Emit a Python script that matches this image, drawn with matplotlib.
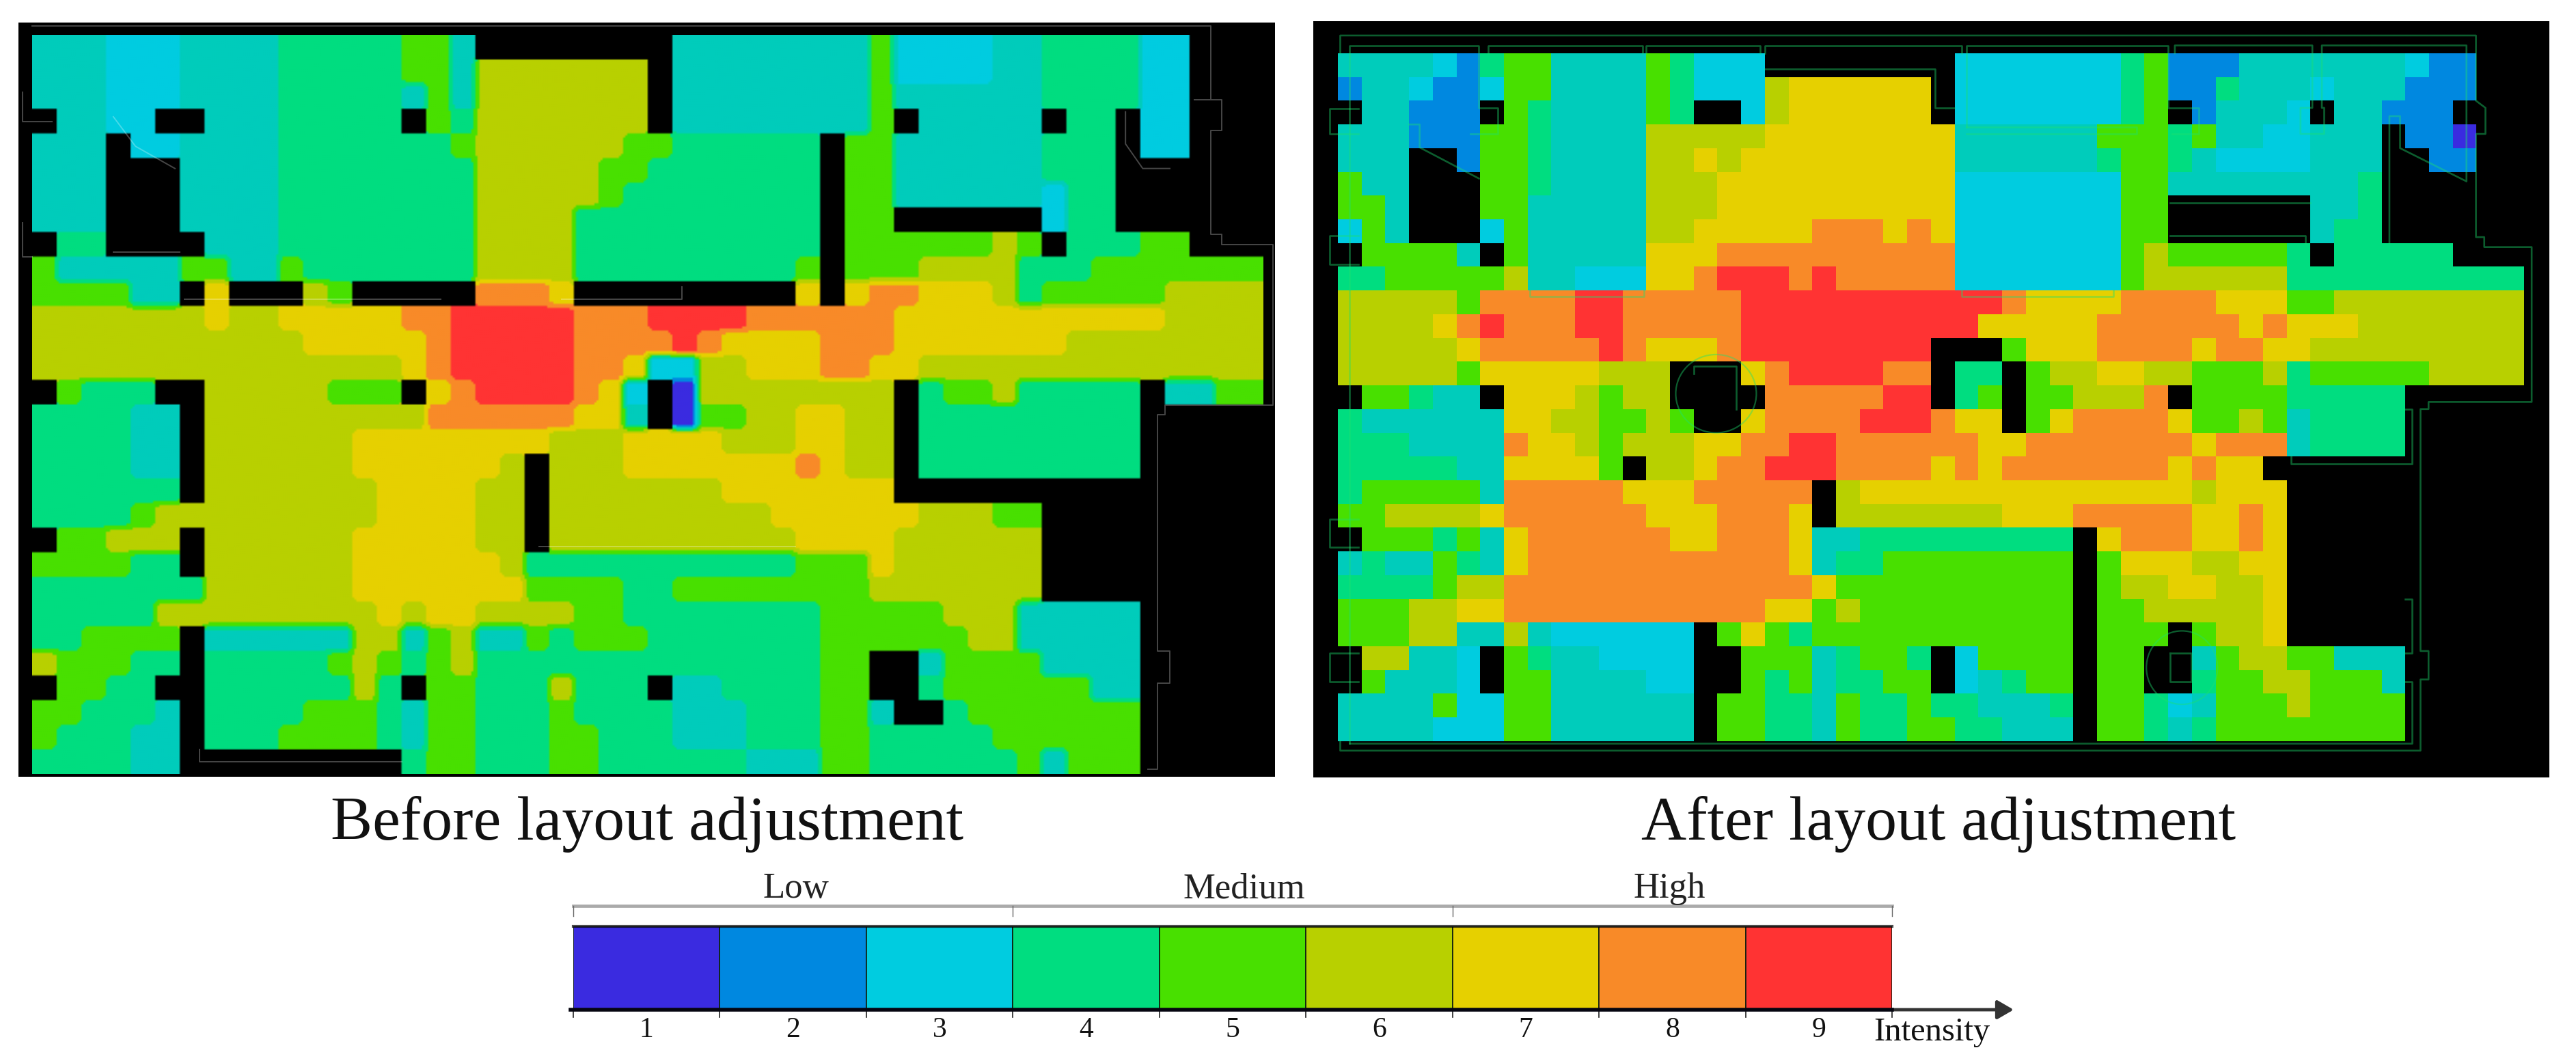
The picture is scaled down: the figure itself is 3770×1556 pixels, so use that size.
import numpy as np
import matplotlib
matplotlib.use('Agg')
import matplotlib.pyplot as plt
from matplotlib.colors import ListedColormap
from matplotlib.patches import Ellipse

# Data: one char per cell, 0 = wall/black, t = the teal shade between 3 and 4
before_rows = [
    "ttt 333 tttt 44444 55 t 00000000 tttttttt 5 3333 tt 4444 33 000",
    "ttt 333 tttt 44444 55 t 6666666 0 tttttttt 5 3333 tt 4444 33 000",
    "ttt 333 tttt 44444 t5 t 6666666 0 tttttttt 5 tttt tt 4444 33 000",
    "0 tt 33 00 ttt 44444 0 5 4 6666666 0 tttttttt 5 0 ttttt 0 44 0 33 000",
    "ttt 0 33 tttt 4444444 5 666666 5 5 444444 0 55 tttttt 444 0 33 000",
    "ttt 000 tttt 44444444 66666 55 4 444444 0 55 tttttt 444 000000",
    "ttt 000 tttt 44444444 66666 5 44 444444 0 55 tttttt 3 44 000000",
    "ttt 000 tttt 44444444 6666 4444 444444 0 55 000000 3 44 000000",
    "0 44 0000 ttt 44444444 6666 4444 444444 0 55 5555 6 5 0 444 55 000",
    "5 ttttt 55 tt 5 4444444 6666 4444 44444 5 0 555 6666 444 5555555",
    "5555 tt 0 7 000 6 5 00000 888 7 000000000 7 0 7 88 777 6 4 55555 6666",
    "6666666 7 66 77777 88 99999 888 9999 888888 77777777777 6666",
    "66666666666 77777 8 99999 888 8 9 8 7777 888 7777777 66666666",
    "666666666666666 7 8 99999 88 7 33 66 777 88 77 66666666666666",
    "0 5 444 00 66666 555 0 7 8 9999 8 7 3 0 1 66666666 0 4 55 6 44444 0 tt 55",
    "4444 tt 0 666666666 888888 77 t 0 1 55 66 77 66 0 444444444 00000",
    "4444 tt 0 666666 77777777 666 7777 666 77 66 0 444444444 00000",
    "4444 tt 0 666666 777777 6 0 666 7777777 8 7 66 0 444444444 00000",
    "444444 0 6666666 7777 66 0 6666666 7777777 000000000000000",
    "4444 5 666666666 7777 66 0 666666666 777777 666 55 000000000",
    "0 55 666 0 666666 77777 66 0 6666666666 7777 666666 000000000",
    "5555 44 0 666666 777777 6 444444 44444 555 7 666666 000000000",
    "4444444 666666 7777777 5555 44 55555555 6666666 000000000",
    "44444 666666666 7 6 77 6666 55 44444444 55555 666 ttttt 00000",
    "44 55 55 0 tttttt 66 t 5 6 tt 5 4 555 4 444444 555555 66 ttttt 00000",
    "6 555 44 0 44444 5 6 5 4 5 6 44444444444444 55 00 t 5555 tttt 00000",
    "0 55 44 00 444444 6 4 0 55 444 6 444 0 tt 4444 55 00 4 555555 tt 00000",
    "55 444 t 0 4444 555 4 t 55 444 5 4444 ttt 444 55 t 00 4 5555555 00000",
    "5 444 tt 0 444 5555 4 t 55 444 55 444 ttt 444 55 44444 555555 00000",
    "4444 tt 000000000 4 55 444 55 444444 ttt 55 444444 5 t 555 00000",
]

after_rows = [
    "tttt 3 2 4 55 tttt 5 4 333 00000000 3333333 4 5 222 ttttttt 3 22 00",
    "2 tt 3 22 3 55 tttt 5 4 333 6 777777 0 3333333 4 5 22 4 ttt 3 ttt 222 00",
    "0 tt 222 0 5 4 tttt 5 4 00 3 6 777777 0 3333333 4 5 0 2 ttt 3 0 tt 222 0 00",
    "ttt 222 55 4 tttt 66666 7777777 7 tttttt 555 4 5 tt 33 ttt 0 22 1 00",
    "ttt 00 2 55 4 tttt 66 7 6 77777777 7 tttttt 4 55 4 t 3333 ttt 00 22 00",
    "5 tt 000 55 4 tttt 666 7777777777 3333333 55 tttttttt 4 000000",
    "55 t 000 55 ttttt 666 7777777777 3333333 55 000000 tt 4 000000",
    "3 5 t 000 3 5 ttttt 66 77777 888 7 8 7 3333333 55 000000 t 44 000000",
    "0 5555 t 0 5 ttttt 777 8888888888 3333333 5 6 55555 4 0 44444 000",
    "44 55555 6 tt 333 77 8 999 8 9 88888 3333333 5 666666 4444444444",
    "66666 5 8888 99 88888 99999999999 8 7777 8888 777 55 66666666",
    "6666 7 8 9 888 99 88888 9999999999 77777 888888 7 8 777 6666666",
    "66666 7 88888 9 8 777 8 99999999 000 5 777 8888 7 88 77 666666666",
    "66666 5 77777 666 000 7 8 9999 88 0 44 0 5 66 77 66 555 6 4 55555 6666",
    "0 55 4 tt 0 777 6 5 66 0000 88888 99 0 4 5 0 55 666 8 0 5555 44444 00000",
    "4 tttttt 77 66 55 6 5 00 7 8888 999 8 77 0 5 7 8888 7 55 6 5 t 4444 00000",
    "444 tttt 8 77 6 5 666 77 88 99 88888 8 77 8888888 7 888 t 4444 00000",
    "44444 tt 7777 5 0 66 7 88 999 8888 7 8 7 8888888 7 8 77 0000000000",
    "4 55555 t 88888 777 88888 0 6 7777 7777777777 6 777 0000000000",
    "55 6666 7 888888 777 888 7 0 66666 66 777 88888 77 8 7 0000000000",
    "0 555 4 5 t 7 888888 77 888 7 tt 4444 44444 0 7 888 77 8 7 0000000000",
    "t 4 tt 5 4 t 7 88888888888 7 t 44 555 55555 0 5 777 66 77 0000000000",
    "4444 5 66 8888888888888 7 55555 55555 0 5 66 77 66 7 0000000000",
    "555 66 77 88888888888 77 5 6 5555 55555 0 55 66666 7 0000000000",
    "555 66 tt 6 t 333333 0 5 7 5 4 555555 55555 0 555 0 5 66 7 0000000000",
    "0 66 tt 3 0 5 4 tt 3333 00 555 t 4 55 4 0 3 5555 0 55 00 t 5 66 55 ttt 00000",
    "0 5 ttt 3 0 55 tttt 33 00 5 4 5 t 44 55 0 3 t 4 55 0 55 00 4 55 66 555 t 00000",
    "tttt 5 33 55 tttttt 0 55 44 t 5 44 5 44 ttt 4 0 55 4 3 t 555 6 5555 00000",
    "tttt 333 55 tttttt 0 55 44 t 5 44 55 44 ttt 0 55 4 t 4 55555555 00000",
]

level_chars = "0123t456789"
level_colors = ["#000000", "#3A2BE0", "#0088E0", "#00CCE0", "#00CCBB", "#00DD80",
                "#48E000", "#B8D000", "#E6D000", "#F88A28", "#FF3333"]
legend_levels = [1, 2, 3, 4, 5, 6, 7, 8, 9]
legend_colors = ["#3A2BE0", "#0088E0", "#00CCE0", "#00DD80", "#48E000", "#B8D000", "#E6D000", "#F88A28", "#FF3333"]
legend_groups = ["Low", "Medium", "High"]
group_label_x = [1.52, 4.58, 7.48]
group_edges = [0, 3, 6, 9]

# wall drawing, in grid cells of the After panel
after_walls = [
    [(0.1, 0), (0.1, -0.75), (48, -0.75), (48, 2.0), (48.4, 2.3), (48.4, 3.4), (48, 3.4), (48, 7.75), (48.35, 7.75),
     (48.35, 8.17), (50.35, 8.17), (50.35, 14.7), (46, 14.7), (46, 15), (45.66, 15), (45.66, 25.2), (46, 25.2),
     (46, 26.4), (45.66, 26.4), (45.66, 29.4), (0.1, 29.4), (0.1, 29)],
    [(0.48, 29.1), (0.48, -0.33), (5.95, -0.33), (5.95, 2.3), (6.75, 2.3), (6.75, 3.4), (5.6, 3.4)],
    [(6.35, 0), (6.35, -0.33), (12.84, -0.33), (12.84, 0)],
    [(13, 0), (13, -0.33), (17.8, -0.33), (17.8, 0)],
    [(18, 0), (18, -0.33), (26.3, -0.33), (26.3, 0)],
    [(26.5, 3.1), (26.5, -0.33), (35, -0.33), (35, 2.3), (36.3, 2.3), (36.3, 3.4), (35.2, 3.4)],
    [(35.3, 0), (35.3, -0.33), (41.1, -0.33), (41.1, 2.3), (40.6, 2.3), (40.6, 3.4), (41.6, 3.4), (41.6, 2.3),
     (41.5, 2.3), (41.5, -0.33), (47.6, -0.33), (47.6, 5.4), (44.8, 4), (44.8, 2.65), (44.35, 2.65), (44.35, 8)],
    [(18, 0.65), (25.2, 0.65), (25.2, 2.3), (26, 2.3)],
    [(3.0, 3.0), (3.45, 3.0), (3.45, 3.97), (5.95, 5.28)],
    [(0.86, 2.33), (-0.35, 2.33), (-0.35, 3.4), (0.86, 3.4)],
    [(0.86, 7.7), (-0.35, 7.7), (-0.35, 8.9), (0.86, 8.9)],
    [(0.86, 19.65), (-0.35, 19.65), (-0.35, 20.83), (0.86, 20.83)],
    [(0.86, 25.3), (-0.35, 25.3), (-0.35, 26.5), (0.86, 26.5)],
    [(35.1, 6.3), (41, 6.3)],
    [(35.1, 7.7), (40.8, 7.7), (40.8, 8)],
    [(8.1, 10), (8.1, 10.25), (12.9, 10.25), (12.9, 10)],
    [(26.3, 10), (26.3, 10.25), (32.7, 10.25), (32.7, 10)],
    [(26.5, 3.4), (33.7, 3.4), (33.7, 3.1), (26.5, 3.1)],
    [(45, 15), (45.3, 15), (45.3, 17.3), (40.2, 17.3), (40.2, 17)],
    [(45, 23), (45.3, 23), (45.3, 25.3), (45, 25.3)],
    [(45, 26.5), (45.3, 26.5), (45.3, 29.1), (0.48, 29.1)],
    [(15, 13.5), (15, 13.2), (16.8, 13.2), (16.8, 15)],
    [(35.1, 25.3), (36, 25.3), (36, 26.5), (35.1, 26.5), (35.1, 25.3)],
]
after_doors = [(15.95, 14.35, 1.7, 1.65), (35.6, 25.9, 1.5, 1.55)]

before_walls = [
    [(0, -0.4), (47.86, -0.4), (47.86, 2.6), (47.2, 2.6), (48.3, 2.6), (48.3, 3.86), (47.86, 3.86), (47.86, 8.08),
     (48.3, 8.08), (48.3, 8.5), (50.4, 8.5), (50.4, 15), (46, 15), (46, 15.4), (45.7, 15.4), (45.7, 25), (46.2, 25),
     (46.2, 26.3), (45.7, 26.3), (45.7, 29.8), (45.3, 29.8)],
    [(-0.4, 2.3), (-0.4, 3.5), (0.8, 3.5)],
    [(-0.4, 7.6), (-0.4, 9), (0, 9)],
    [(44.4, 3.1), (44.4, 4.4), (45.1, 5.4), (46.2, 5.4)],
    [(3.3, 3.3), (4.2, 4.5), (5.8, 5.4)],
    [(3.3, 8.8), (6, 8.8)],
    [(6.2, 10.7), (16.6, 10.7)],
    [(21.5, 10.7), (26.4, 10.7), (26.4, 10.2)],
    [(6.8, 29), (6.8, 29.5), (15, 29.5)],
    [(20.6, 20.75), (31, 20.75)],
]


def to_grid(rows):
    return np.array([[level_chars.index(c) for c in r.replace(" ", "").ljust(50, "0")[:50]] for r in rows])


def smooth(a, n):
    k = np.ones(n) / n
    a = np.apply_along_axis(lambda v: np.convolve(v, k, mode='same'), 0, a)
    return np.apply_along_axis(lambda v: np.convolve(v, k, mode='same'), 1, a)


before = to_grid(before_rows)
after = to_grid(after_rows)

cmap = ListedColormap(level_colors)
W, H = 3770, 1556

plt.rcParams['font.family'] = ['Liberation Serif', 'DejaVu Serif']
fig = plt.figure(figsize=(W / 100, H / 100), dpi=100)


def panel_axes(x0, y0, x1, y1, gx0, gy0, px, py):
    ax = fig.add_axes([x0 / W, 1 - y1 / H, (x1 - x0) / W, (y1 - y0) / H])
    ax.set_facecolor('black')
    ax.set_xlim((x0 - gx0) / px, (x1 - gx0) / px)
    ax.set_ylim((y1 - gy0) / py, (y0 - gy0) / py)
    ax.set_xticks([])
    ax.set_yticks([])
    for s in ax.spines.values():
        s.set_visible(False)
    return ax


# Before panel is smoothed, levels are rounded again so the contours come out wavy
ax1 = panel_axes(27, 33, 1866, 1137, 47, 52, 36.04, 36.04)
k = 12
up = np.repeat(np.repeat(before, k, axis=0), k, axis=1).astype(float)
open_area = (up > 0).astype(float)
vals = smooth(np.pad(up * open_area, k), 5)
wts = smooth(np.pad(open_area, k), 5)
field = np.round(vals / np.maximum(wts, 1e-6))[k:-k, k:-k]
field[up == 0] = 0
ax1.imshow(cmap(field.astype(int))[..., :3], extent=(0, 50, 30, 0), interpolation='bilinear', aspect='auto')
for path in before_walls:
    xs, ys = zip(*path)
    ax1.plot(xs, ys, color='white', alpha=0.28, lw=1.4)

# After panel
ax2 = panel_axes(1922, 31, 3731, 1138, 1958, 78, 34.7, 34.72)
ax2.imshow(after, cmap=cmap, vmin=-0.5, vmax=10.5, extent=(0, 50, 29, 0), interpolation='nearest', aspect='auto')
for path in after_walls:
    xs, ys = zip(*path)
    ax2.plot(xs, ys, color='#1EE070', alpha=0.42, lw=1.9)
for cx, cy, rx, ry in after_doors:
    ax2.add_patch(Ellipse((cx, cy), 2 * rx, 2 * ry, fill=False, ec='#1EE070', alpha=0.42, lw=1.6))

# Intensity scale
leg = fig.add_axes([839 / W, 1 - 1478 / H, (2769 - 839) / W, (1478 - 1356) / H])
leg.bar(np.arange(len(legend_levels)) + 0.5, [1] * len(legend_levels), width=1, color=legend_colors,
        edgecolor='#102010', linewidth=1.2)
leg.set_xlim(0, 9)
leg.set_ylim(0, 1)
leg.axis('off')
leg.plot([0, 9], [1, 1], color='black', alpha=0.7, lw=3, clip_on=False)
leg.plot([-0.02, 9], [0, 0], color='#050510', lw=4, clip_on=False, zorder=4)
# arrow running past the last level, with its label
leg.annotate('', xy=(9.83, 0), xytext=(9, 0), xycoords='data',
             arrowprops=dict(arrowstyle='-|>,head_width=0.32,head_length=0.55', color='#333333', lw=3.5,
                             shrinkA=0, shrinkB=0, mutation_scale=26), annotation_clip=False)
for i in range(len(legend_levels) + 1):
    leg.plot([i, i], [0, -0.09], color='#222222', lw=1.2, clip_on=False)
for i, v in enumerate(legend_levels):
    leg.text(i + 0.5, -0.245, str(v), ha='center', va='center', fontsize=30, color='#111111')
leg.text(9.27, -0.27, "Intensity", ha='center', va='center', fontsize=35, color='#111111')

# Low / Medium / High bracket over the scale
leg.plot([0, 9], [1.245, 1.245], color='#aaaaaa', lw=3.4, clip_on=False)
for e in group_edges:
    leg.plot([e, e], [1.245, 1.12], color='#666666', lw=1, clip_on=False)
for g, x in zip(legend_groups, group_label_x):
    leg.text(x, 1.45, g, ha='center', va='center', fontsize=38, color='#222222')

fig.text(947 / W, 1 - 1207 / H, "Before layout adjustment", ha='center', va='center', fontsize=66, color='#111111')
fig.text(2837 / W, 1 - 1207 / H, "After layout adjustment", ha='center', va='center', fontsize=66, color='#111111')

fig.savefig('out.png', dpi=100)
